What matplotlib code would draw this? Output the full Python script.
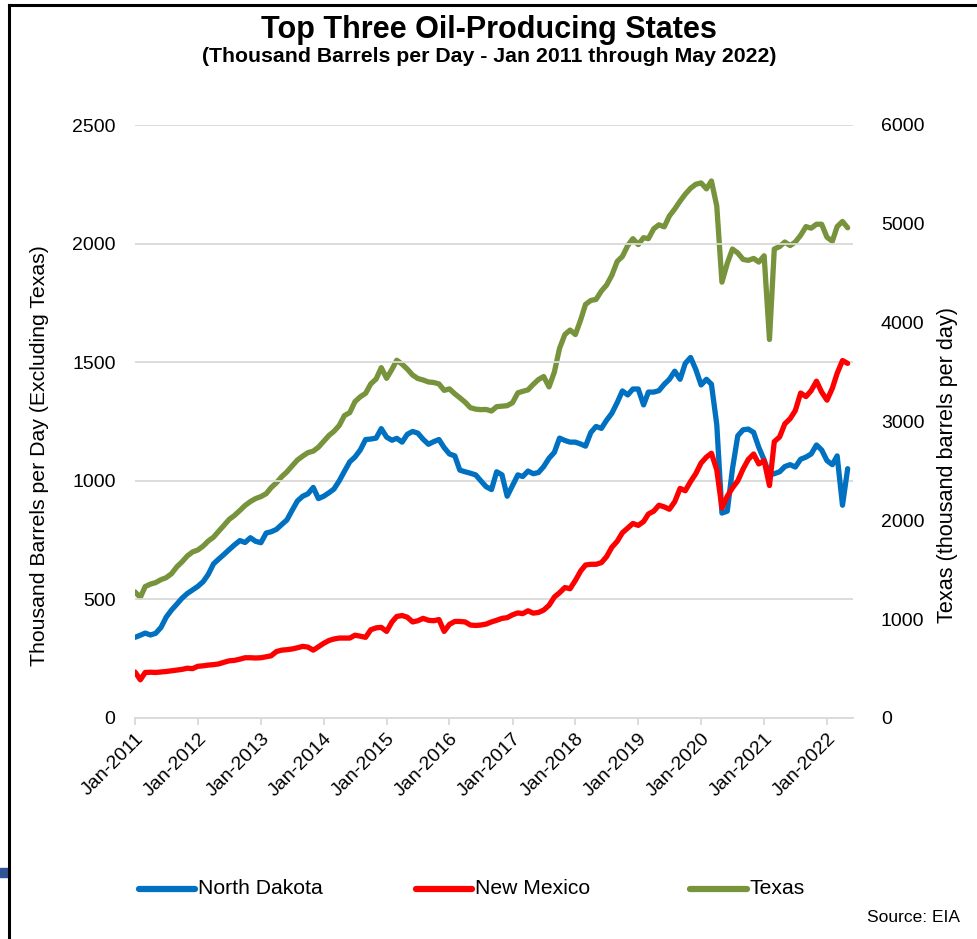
import matplotlib.pyplot as plt
import matplotlib.dates as mdates
from matplotlib.lines import Line2D
from matplotlib.patches import Rectangle
import pandas as pd

plt.rcParams['font.family'] = ['Liberation Sans', 'DejaVu Sans']

# monthly, Jan 2011 .. May 2022 (thousand barrels per day)
months = pd.date_range('2011-01-01', '2022-05-01', freq='MS')

north_dakota = [
    340, 349, 358, 350, 357, 382, 425, 455, 480, 505,
    525, 540, 555, 575, 605, 650, 670, 690, 710, 730,
    748, 740, 760, 745, 739, 780, 785, 795, 815, 835,
    875, 915, 935, 945, 972, 925, 935, 950, 965, 1000,
    1040, 1080, 1100, 1130, 1174, 1176, 1180, 1220, 1184, 1171,
    1179, 1163, 1196, 1208, 1201, 1175, 1154, 1165, 1174, 1140,
    1113, 1105, 1045, 1038, 1032, 1025, 1000, 975, 963, 1038,
    1025, 935, 980, 1025, 1018, 1041, 1030, 1035, 1060, 1095,
    1120, 1180, 1170, 1163, 1163, 1155, 1146, 1204, 1229, 1221,
    1255, 1285, 1330, 1379, 1362, 1387, 1387, 1320, 1374, 1374,
    1380, 1407, 1428, 1462, 1428, 1495, 1520, 1470, 1404, 1428,
    1407, 1237, 864, 872, 1050, 1190, 1215, 1218, 1204, 1141,
    1088, 1025, 1030, 1038, 1060, 1068, 1058, 1091, 1100, 1113,
    1151, 1130, 1085, 1068, 1105, 897, 1051,
]

new_mexico = [
    194, 161, 192, 193, 192, 194, 196, 199, 202, 205,
    210, 208, 218, 220, 223, 225, 228, 235, 241, 243,
    248, 254, 254, 253, 254, 258, 262, 280, 286, 288,
    291, 296, 302, 299, 286, 300, 315, 327, 333, 337,
    337, 337, 349, 345, 340, 372, 380, 382, 365, 405,
    428, 432, 425, 405, 410, 420, 412, 410, 415, 365,
    395, 407, 407, 405, 392, 390, 392, 396, 405, 412,
    420, 423, 435, 443, 440, 452, 442, 445, 455, 475,
    510, 528, 550, 545, 580, 620, 645, 648, 648, 655,
    680, 720, 745, 781, 801, 820, 812, 828, 860, 872,
    897, 890, 880, 912, 968, 958, 997, 1030, 1075, 1100,
    1116, 1046, 885, 935, 970, 1000, 1050, 1090, 1113, 1071,
    1085, 980, 1165, 1185, 1240, 1262, 1296, 1370, 1355, 1380,
    1420, 1374, 1340, 1390, 1453, 1507, 1495,
]

texas = [
    1276, 1220, 1330, 1355, 1370, 1400, 1420, 1460, 1530, 1580,
    1640, 1680, 1700, 1740, 1790, 1830, 1890, 1950, 2010, 2050,
    2100, 2150, 2190, 2220, 2240, 2270, 2330, 2380, 2440, 2490,
    2550, 2610, 2650, 2685, 2700, 2740, 2800, 2860, 2900, 2960,
    3060, 3090, 3200, 3250, 3285, 3380, 3430, 3545, 3437, 3528,
    3620, 3580, 3530, 3470, 3435, 3420, 3400, 3395, 3380, 3315,
    3330, 3280, 3240, 3195, 3140, 3125, 3120, 3122, 3106, 3150,
    3155, 3160, 3190, 3290, 3305, 3320, 3375, 3425, 3455, 3350,
    3500, 3740, 3880, 3925, 3880, 4030, 4185, 4225, 4235, 4320,
    4380, 4480, 4620, 4670, 4780, 4850, 4790, 4860, 4850, 4950,
    4990, 4970, 5080, 5150, 5230, 5300, 5360, 5400, 5414, 5354,
    5434, 5180, 4410, 4600, 4745, 4705, 4640, 4630, 4650, 4613,
    4677, 3830, 4745, 4770, 4816, 4780, 4816, 4884, 4972, 4956,
    4996, 4996, 4864, 4824, 4972, 5024, 4960,
]

series_names = ['North Dakota', 'New Mexico', 'Texas']
left_ticks = [0, 500, 1000, 1500, 2000, 2500]
right_ticks = [0, 1000, 2000, 3000, 4000, 5000, 6000]

c_nd = '#0070C0'
c_nm = '#FF0000'
c_tx = '#77933C'
grid_c = '#D9D9D9'

fig = plt.figure(figsize=(9.78, 9.39), dpi=100)
ax = fig.add_axes([135 / 978, 1 - 718 / 939, (853 - 135) / 978, (718 - 125) / 939])
ax2 = ax.twinx()

# grid + axes styling
ax.set_ylim(0, 2500)
ax.set_yticks(left_ticks)
ax.grid(axis='y', color=grid_c, linewidth=1.3)
ax.set_axisbelow(True)
ax2.set_ylim(0, 6000)
ax2.set_yticks(right_ticks)
for a in (ax, ax2):
    for s in a.spines.values():
        s.set_visible(False)
ax.spines['bottom'].set_visible(True)
ax.spines['bottom'].set_color(grid_c)
ax.spines['bottom'].set_linewidth(1.3)

ax.set_xlim(pd.Timestamp('2011-01-01'), pd.Timestamp('2022-06-01'))
ax.xaxis.set_major_locator(mdates.YearLocator(month=1, day=1))
ax.xaxis.set_major_formatter(mdates.DateFormatter('%b-%Y'))
ax.tick_params(axis='x', length=5, color=grid_c, width=1.3, labelsize=14, pad=4)
for lab in ax.get_xticklabels():
    lab.set_rotation(45)
    lab.set_ha('right')
    lab.set_rotation_mode('anchor')
ax.tick_params(axis='y', length=0, labelsize=14, pad=14)
ax2.tick_params(axis='y', length=0, labelsize=14, pad=20)

# series
ax.plot(months, north_dakota, color=c_nd, lw=3.8, solid_capstyle='round', zorder=3)
ax.plot(months, new_mexico, color=c_nm, lw=3.8, solid_capstyle='round', zorder=3)
ax2.plot(months, texas, color=c_tx, lw=3.8, solid_capstyle='round', zorder=2)
ax.set_zorder(ax2.get_zorder() + 1)
ax.patch.set_visible(False)

ax.set_ylabel('Thousand Barrels per Day (Excluding Texas)', fontsize=15.3)
ax.yaxis.set_label_coords(-0.12, 0.442)
ax2.set_ylabel('Texas (thousand barrels per day)', fontsize=15.6)
ax2.yaxis.set_label_coords(1.117, 0.427)

fig.text(0.5, 0.968, 'Top Three Oil-Producing States', ha='center', va='center',
         fontsize=22, fontweight='bold')
fig.text(0.5, 0.940, '(Thousand Barrels per Day - Jan 2011 through May 2022)',
         ha='center', va='center', fontsize=15.3, fontweight='bold')

# legend drawn by hand to match the spacing of the original
leg_y = 1 - 889 / 939
swatches = [(139, 195, c_nd), (416, 472, c_nm), (690, 747, c_tx)]
for (x0, x1, c), name in zip(swatches, series_names):
    fig.add_artist(Line2D([x0 / 978, x1 / 978], [leg_y, leg_y], color=c, lw=4.5,
                          solid_capstyle='round', transform=fig.transFigure))
    fig.text((x1 + 3) / 978, leg_y, name, ha='left', va='center', fontsize=15.2)

fig.text(0.982, 0.023, 'Source: EIA', ha='right', va='center', fontsize=12.5)

# slide frame fragments
fig.add_artist(Line2D([9 / 978, 9 / 978], [0, 1 - 5 / 939], color='black', lw=2.2,
                      transform=fig.transFigure))
fig.add_artist(Line2D([9 / 978, 1], [1 - 5 / 939, 1 - 5 / 939], color='black', lw=2.2,
                      transform=fig.transFigure))
fig.add_artist(Rectangle((0, 1 - 877 / 939), 8 / 978, 9 / 939, color='#2F5597',
                         transform=fig.transFigure))

fig.savefig('out.png', dpi=100)
